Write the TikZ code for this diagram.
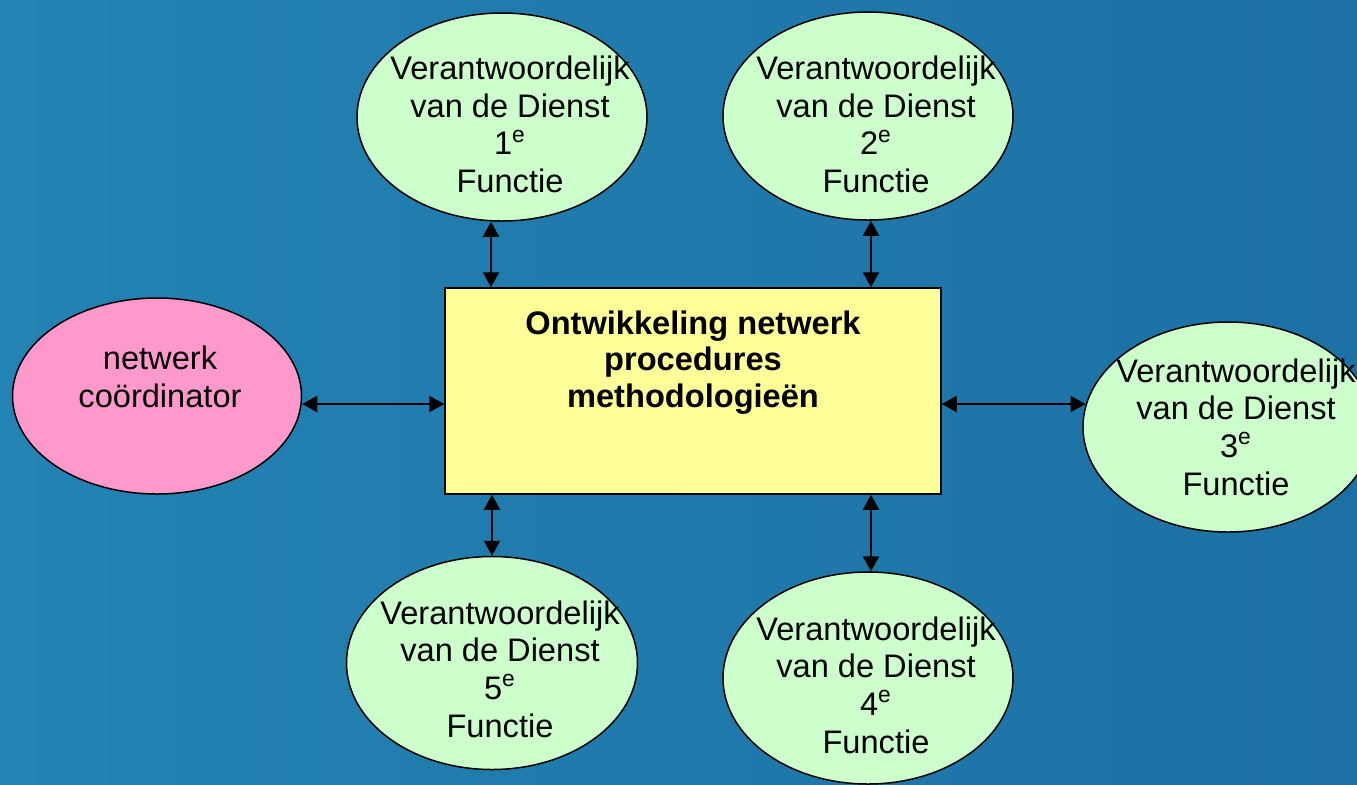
\documentclass[tikz,border=0pt]{standalone}
\usepackage{fontspec}
\setmainfont{Liberation Sans}
\usepackage{xcolor}
\usepackage{tikz}
\usetikzlibrary{positioning,arrows.meta,shapes.geometric}

\definecolor{funcgreen}{HTML}{CCFFCC}
\definecolor{coordpink}{HTML}{FF99CC}
\definecolor{coreyellow}{HTML}{FFFF99}
\definecolor{bgleft}{HTML}{2383B3}
\definecolor{bgright}{HTML}{1C70A4}

\begin{document}
\begin{tikzpicture}[
  x=0.5pt, y=-0.5pt,
  func/.style={ellipse, draw, line width=0.75pt, fill=funcgreen, inner sep=0pt,
    minimum width=145pt, minimum height=104pt},
  txt/.style={font=\fontsize{16.3}{18.8}\selectfont, align=center, inner sep=0pt},
  dbl/.style={{Triangle[length=7.5pt,width=8pt]}-{Triangle[length=7.5pt,width=8pt]}, line width=1pt}]
\useasboundingbox (0,0) rectangle (1357,784);
\shade[left color=bgleft, right color=bgright] (0,0) rectangle (1357,784);

\node[draw, line width=0.75pt, fill=coreyellow, minimum width=248pt, minimum height=103pt,
  label={[txt, font=\fontsize{16.3}{18.3}\selectfont\bfseries, anchor=north, yshift=-11.5pt]north:{Ontwikkeling netwerk\\procedures\\methodologieën}}]
  (core) at (693,391) {};

\node[func, label={[txt, xshift=4pt, yshift=-3.75pt]center:{Verantwoordelijk\\van de Dienst\\1\textsuperscript{e}\\Functie}}]
  (f1) at (502,117) {};
\node[func, label={[txt, xshift=4pt, yshift=-4.25pt]center:{Verantwoordelijk\\van de Dienst\\2\textsuperscript{e}\\Functie}}]
  (f2) at (868,116) {};
\node[func, minimum height=105pt, label={[txt, xshift=4pt]center:{Verantwoordelijk\\van de Dienst\\3\textsuperscript{e}\\Functie}}]
  (f3) at (1228,427) {};
\node[func, minimum height=106pt, label={[txt, xshift=4pt, yshift=-3.5pt]center:{Verantwoordelijk\\van de Dienst\\4\textsuperscript{e}\\Functie}}]
  (f4) at (868,678) {};
\node[func, minimum width=145.5pt, minimum height=106.5pt, label={[txt, xshift=4pt, yshift=-3pt]center:{Verantwoordelijk\\van de Dienst\\5\textsuperscript{e}\\Functie}}]
  (f5) at (492,663) {};
\node[func, fill=coordpink, minimum width=144.5pt, minimum height=98pt,
  label={[txt, xshift=1.5pt, yshift=9.5pt]center:{netwerk\\coördinator}}]
  (coord) at (157,396) {};

% links to the core box
\coordinate (mid) at (0,404);
\draw[dbl] ([xshift=-5.5pt]f1.south) -- ([xshift=-5.5pt]f1.south |- core.north);
\draw[dbl] ([xshift=1.5pt]f2.south) -- ([xshift=1.5pt]f2.south |- core.north);
\draw[dbl] (core.south -| f5.north) -- (f5.north);
\draw[dbl] ([xshift=1.5pt]core.south -| f4.north) -- ([xshift=1.5pt]f4.north);
\draw[dbl] (coord.east |- mid) -- (core.west |- mid);
\draw[dbl] (core.east |- mid) -- (f3.171 |- mid);
\end{tikzpicture}
\end{document}
